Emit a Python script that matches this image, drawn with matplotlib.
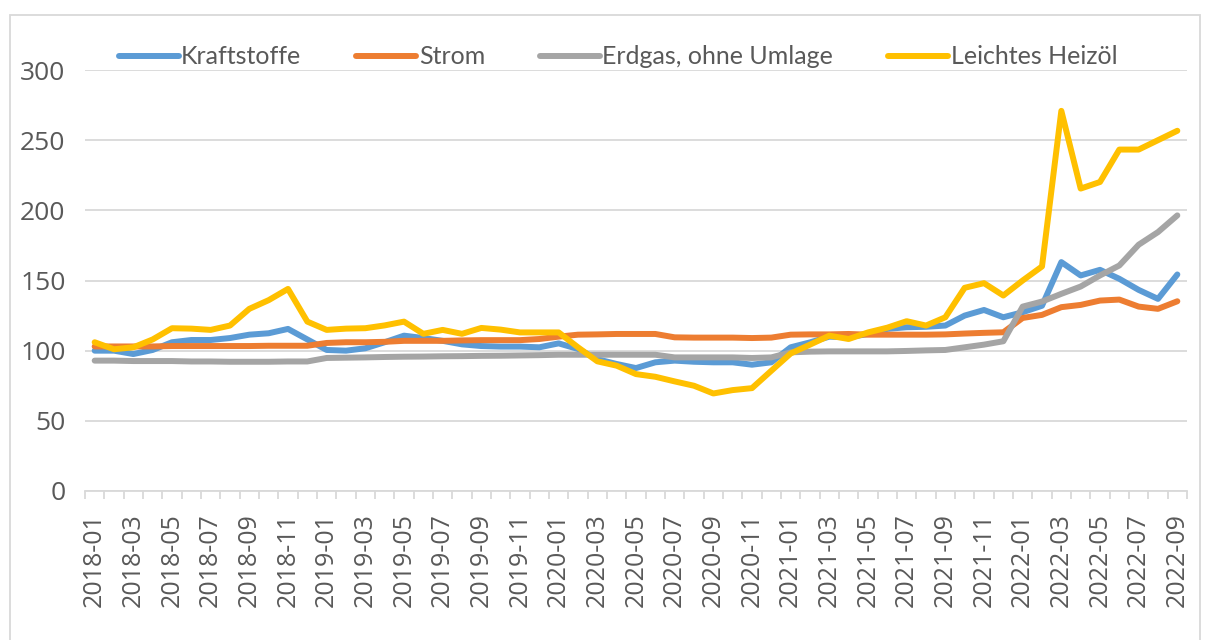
import matplotlib

matplotlib.use("Agg")
import matplotlib.pyplot as plt
import numpy as np
import pandas as pd
from matplotlib.patches import Rectangle

months = list(pd.period_range("2018-01", "2022-09", freq="M").strftime("%Y-%m"))

kraftstoffe = [
    100, 100, 97.6, 100.5, 106, 107.6, 107.6, 109, 111.4, 112.4, 115.5, 108,
    100.5, 100, 101.7, 106, 110.7, 109, 107, 104.5, 103.3, 102.9, 102.9, 102.4,
    105.2, 101.2, 93.9, 90.5, 87.6, 91.7, 92.9, 92.1, 91.7, 91.7, 90, 91.7,
    102.4, 105.9, 110, 109.5, 111.9, 115.5, 116.7, 117, 117.9, 125, 129, 123.8,
    127.4, 132, 163.1, 153.6, 157.6, 151.2, 143.3, 136.9, 154.3,
]
strom = [
    103, 103, 103, 103, 103.3, 103.3, 103.3, 103.3, 103.3, 103.5, 103.5, 103.5,
    105.5, 106, 106, 106.3, 107, 107, 107, 107.3, 107.5, 107.5, 107.5, 108.3,
    110, 111.4, 111.6, 111.9, 111.9, 111.9, 109.5, 109.3, 109.3, 109.3, 109, 109.3,
    111.4, 111.6, 111.6, 111.9, 111.4, 111.4, 111.4, 111.4, 111.6, 112.2, 112.7, 113.1,
    123.3, 125.5, 131, 132.6, 135.7, 136.4, 131.4, 129.8, 135.2,
]
erdgas = [
    92.9, 92.9, 92.6, 92.6, 92.6, 92.3, 92.3, 92.1, 92.1, 92.1, 92.3, 92.3,
    94.8, 95, 95.2, 95.5, 95.7, 95.8, 96, 96.1, 96.3, 96.4, 96.6, 96.8,
    97.1, 97.1, 97.1, 97.1, 97.1, 97.1, 95.2, 95.2, 95.2, 95.2, 94.8, 95.2,
    98.8, 99.3, 99.5, 99.5, 99.5, 99.5, 99.8, 100.2, 100.5, 102.4, 104.3, 106.7,
    131.4, 135, 140.5, 145.7, 153.6, 160.7, 175.5, 184.5, 196.4,
]
heizoel = [
    106, 101, 102.4, 108, 116, 115.7, 114.8, 117.9, 129.8, 136, 144, 120.7,
    114.8, 115.7, 116, 118, 120.7, 112, 114.8, 112, 116.2, 115, 113, 113,
    113, 102.4, 92.4, 89.3, 83.3, 81.4, 78.1, 75, 69.5, 71.9, 73.3, 85.7,
    98, 104.3, 110.7, 108.3, 113, 116.4, 121, 117.9, 123.8, 144.8, 148.1, 139.3,
    150, 160, 270.9, 215.5, 220.2, 243.3, 243.3, 250, 256.7,
]

series_names = ["Kraftstoffe", "Strom", "Erdgas, ohne Umlage", "Leichtes Heizöl"]
series_colors = ["#5B9BD5", "#ED7D31", "#A5A5A5", "#FFC000"]

text_color = "#595959"
grid_color = "#D9D9D9"

fig = plt.figure(figsize=(12.06, 6.4), dpi=100)
ax = fig.add_axes([85 / 1206, 1 - 491 / 640, (1187 - 85) / 1206, (491 - 70) / 640])

x = np.arange(len(months))
for name, values, color in zip(series_names, [kraftstoffe, strom, erdgas, heizoel], series_colors):
    ax.plot(x, values, color=color, lw=4.3, label=name, solid_capstyle="round",
            solid_joinstyle="round")

ax.set_xlim(-0.5, len(months) - 0.5)
ax.set_ylim(0, 300)
ax.set_yticks(range(0, 301, 50))
ax.yaxis.grid(True, color=grid_color, lw=1.3)
ax.set_axisbelow(True)

for side in ["left", "right", "top"]:
    ax.spines[side].set_visible(False)
ax.spines["bottom"].set_color(grid_color)
ax.spines["bottom"].set_linewidth(1.3)

ax.set_xticks(x[::2])
ax.set_xticklabels(months[::2], rotation=90, fontfamily="Open Sans", fontsize=18,
                   color=text_color)
ax.set_xticks(np.arange(-0.5, len(months)), minor=True)
ax.tick_params(axis="x", which="major", length=0, pad=16)
ax.tick_params(axis="x", which="minor", length=6, color=grid_color, width=1.3)
ax.tick_params(axis="y", length=0, pad=14, labelsize=19, labelcolor=text_color)
for lbl in ax.get_yticklabels():
    lbl.set_fontfamily("Open Sans")

fig.legend(loc="center", bbox_to_anchor=(618 / 1206, 1 - 57 / 640), ncol=4,
           frameon=False, handlelength=2.4, columnspacing=2.2, handletextpad=0.1,
           prop={"family": "Lato", "size": 18},
           labelcolor=text_color)

fig.patches.append(Rectangle((10 / 1206, -0.05), 1190 / 1206, 1.05 - 15 / 640,
                             transform=fig.transFigure, fill=False,
                             edgecolor=grid_color, lw=1.3))

fig.savefig("out.png", dpi=100)
